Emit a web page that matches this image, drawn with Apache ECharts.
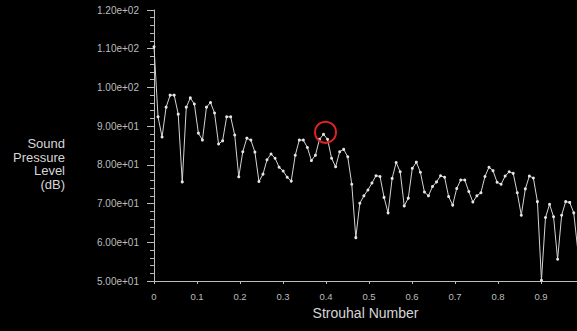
<!DOCTYPE html>
<html>
<head>
<meta charset="utf-8">
<script src="https://cdn.jsdelivr.net/npm/echarts@6/dist/echarts.min.js"></script>
<style>
html,body{margin:0;padding:0;background:#000;}
#c{width:577px;height:331px;}
</style>
</head>
<body>
<div id="c"></div>
<script>
// Strouhal number spacing between successive spectrum samples
const stStep = 0.009386;
// Sound pressure level (dB) per sample
const splValues = [
  110.5, 92.4, 87.2, 94.9, 98.0, 98.0, 93.1, 75.6, 94.9, 97.3,
  95.7, 88.2, 86.4, 94.9, 96.1, 93.4, 85.4, 86.2, 92.4, 92.4,
  87.7, 76.9, 83.4, 86.9, 86.4, 83.3, 75.7, 77.6, 81.3, 82.8,
  81.7, 79.4, 78.4, 76.8, 75.8, 82.5, 86.4, 86.4, 84.5, 81.1,
  82.5, 86.6, 87.9, 86.6, 81.7, 79.5, 83.4, 84.0, 82.1, 75.0,
  61.2, 70.1, 72.0, 73.5, 75.3, 77.2, 77.0, 71.6, 67.6, 76.5,
  80.6, 78.2, 69.4, 71.4, 79.1, 80.7, 78.1, 73.0, 72.0, 74.4,
  75.6, 77.2, 76.8, 71.8, 69.6, 73.9, 76.1, 76.1, 73.1, 70.4,
  72.0, 72.8, 77.0, 79.4, 78.5, 75.5, 75.0, 77.1, 78.2, 77.8,
  72.8, 67.0, 73.8, 77.1, 76.6, 70.5, 50.2, 66.4, 69.8, 66.6,
  55.6, 67.0, 70.5, 70.3, 67.6, 58.0
];
const highlightIndex = 42;
const xTicks = [0, 0.1, 0.2, 0.3, 0.4, 0.5, 0.6, 0.7, 0.8, 0.9];
const yTicks = [50, 60, 70, 80, 90, 100, 110, 120];
const xName = 'Strouhal Number';
const yName = 'Sound\nPressure\nLevel\n(dB)';

const font = '"Liberation Sans", Arial, sans-serif';

const seriesData = splValues.map((v, i) => [i * stStep, v]);

function expLabel(v) {
  return v.toExponential(2).replace(/e([+-])(\d)$/, 'e$10$2');
}

const chart = echarts.init(document.getElementById('c'), null, {renderer: 'svg'});
chart.setOption({
  backgroundColor: '#000',
  animation: false,
  grid: {left: 154, right: 0, top: 10, bottom: 50, containLabel: false},
  xAxis: {
    type: 'value',
    min: xTicks[0],
    max: 0.9837,
    interval: 0.1,
    axisLine: {show: true, lineStyle: {color: '#bdbdbd', width: 1}},
    axisTick: {show: true, length: 3, lineStyle: {color: '#bdbdbd'}},
    axisLabel: {
      color: '#bdbdbd', fontSize: 9.5, margin: 10, fontFamily: font,
      showMaxLabel: false,
      formatter: function (v) {
        const hit = xTicks.find(t => Math.abs(t - v) < 1e-6);
        if (hit === undefined) return '';
        return hit === 0 ? '0' : hit.toFixed(1);
      }
    },
    splitLine: {show: false},
    name: xName,
    nameLocation: 'middle',
    nameGap: 21,
    nameTextStyle: {color: '#d6d6d6', fontSize: 14, fontFamily: font}
  },
  yAxis: {
    type: 'value',
    min: yTicks[0],
    max: yTicks[yTicks.length - 1],
    interval: 10,
    axisLine: {show: true, lineStyle: {color: '#bdbdbd', width: 1}},
    axisTick: {show: true, length: 7, lineStyle: {color: '#bdbdbd'}},
    minorTick: {show: true, splitNumber: 5, length: 4, lineStyle: {color: '#bdbdbd'}},
    axisLabel: {color: '#bdbdbd', fontSize: 10, margin: 15, fontFamily: font, formatter: expLabel},
    splitLine: {show: false}
  },
  graphic: [{
    type: 'text',
    x: 65,
    y: 137,
    style: {
      text: yName,
      fill: '#d6d6d6',
      fontSize: 13,
      fontFamily: font,
      align: 'right',
      verticalAlign: 'top',
      lineHeight: 13.5
    }
  }],
  series: [{
    type: 'line',
    data: seriesData,
    symbol: 'circle',
    symbolSize: 3,
    showSymbol: true,
    lineStyle: {color: '#d4d4d4', width: 1},
    itemStyle: {color: '#e6e6e6'},
    markPoint: {
      silent: true,
      data: [{
        coord: seriesData[highlightIndex],
        symbol: 'circle',
        symbolSize: 21,
        symbolOffset: [2, -2],
        itemStyle: {color: 'rgba(0,0,0,0)', borderColor: '#e02222', borderWidth: 2},
        label: {show: false}
      }]
    }
  }]
});
</script>
</body>
</html>
